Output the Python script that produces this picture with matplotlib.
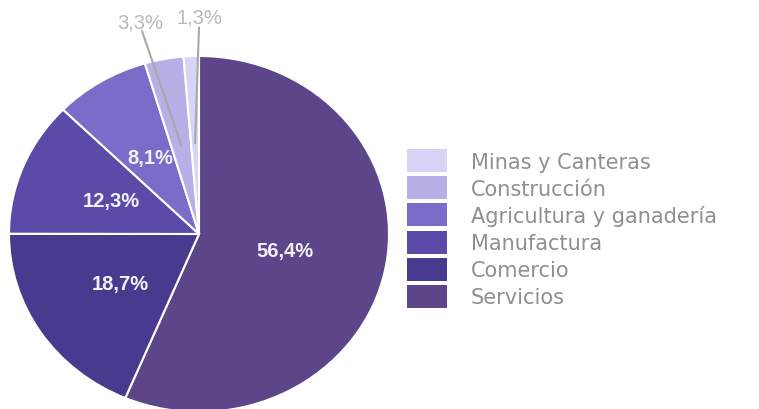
import numpy as np
import matplotlib
matplotlib.use('Agg')
import matplotlib.pyplot as plt

# data
sectores = ['Servicios', 'Comercio', 'Manufactura', 'Agricultura y ganadería',
            'Construcción', 'Minas y Canteras']
valores = [56.4, 18.7, 12.3, 8.1, 3.3, 1.3]
etiquetas = ['56,4%', '18,7%', '12,3%', '8,1%', '3,3%', '1,3%']
colores = ['#5d4589', '#483a8f', '#5b4aa8', '#7a6cc8', '#b7b0e6', '#d8d4f7']

fig = plt.figure(figsize=(7.59, 4.10), dpi=100)
ax = fig.add_axes([0, 0, 1, 1])

wedges, _ = ax.pie(valores, colors=colores, startangle=90, counterclock=False,
                   radius=1, wedgeprops=dict(edgecolor='white', linewidth=1.5))

# the original picture is a bit stretched sideways
ax.set_aspect('auto')
ax.set_xlim(-199 / 190, (759 - 199) / 190)
ax.set_ylim(-175 / 178, 235 / 178)
ax.axis('off')

# labels inside the big slices
dist_in = [0.46, 0.5, 0.5, 0.5]
for w, lab, r in zip(wedges[:4], etiquetas[:4], dist_in):
    ang = np.deg2rad((w.theta1 + w.theta2) / 2)
    ax.text(r * np.cos(ang), r * np.sin(ang), lab, ha='center', va='center',
            color='#f3f1fa', fontsize=14.5, fontweight='bold',
            family='Liberation Sans')

# small slices get a label on top with a leader line
pos_out = [(-0.30, 1.14), (0.0, 1.16)]
pos_txt = [(-0.31, 1.19), (0.0, 1.22)]
for w, lab, p, t in zip(wedges[4:], etiquetas[4:], pos_out, pos_txt):
    ang = np.deg2rad((w.theta1 + w.theta2) / 2)
    ax.plot([0.51 * np.cos(ang), p[0]], [0.51 * np.sin(ang), p[1]],
            color='#a8a8a8', lw=1.5, solid_capstyle='round')
    ax.text(t[0], t[1], lab, ha='center', va='center', color='#b8b8b8',
            fontsize=14.5, family='Liberation Sans')

leg = fig.legend(wedges[::-1], sectores[::-1], loc='center left',
                 bbox_to_anchor=(407 / 759, 1 - 229.5 / 410), frameon=False,
                 borderpad=0, borderaxespad=0, fontsize=15,
                 handlelength=1.92, handleheight=1.32, handletextpad=1.15,
                 labelspacing=0.2)
for txt in leg.get_texts():
    txt.set_color('#8f8f8f')
for h in leg.legend_handles:
    h.set_edgecolor('none')

fig.savefig('out.png', dpi=100)
